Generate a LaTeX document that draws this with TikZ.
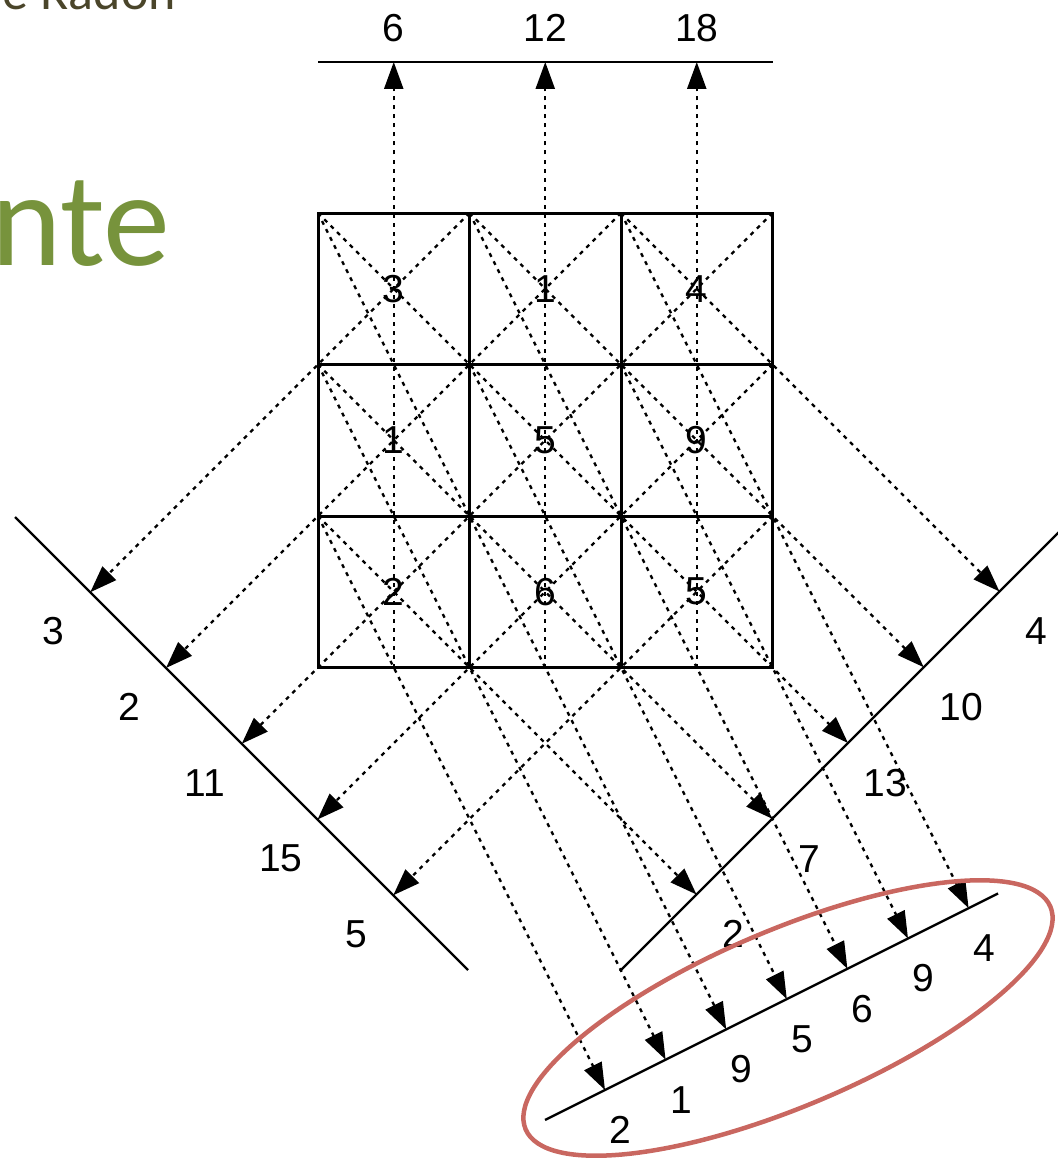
\documentclass[tikz,border=0pt]{standalone}
\usepackage{fontspec}
\setmainfont{Liberation Sans}
\newfontfamily\slidefont{Carlito}
\usetikzlibrary{arrows.meta}
\definecolor{titlegray}{RGB}{74,69,42}
\definecolor{titlegreen}{RGB}{119,147,60}
\definecolor{ringred}{RGB}{201,103,96}
\begin{document}
\begin{tikzpicture}[x=1pt,y=-1pt,
  ray/.style={line width=2.4pt, dash pattern=on 4pt off 5pt, -{Triangle[length=27pt,width=19pt]}},
  detector/.style={line width=2.3pt},
  gridline/.style={line width=3pt},
  num/.style={font=\fontsize{39}{39}\selectfont, inner sep=0pt},
  ring/.style={draw=ringred, line width=4.5pt},
]
\useasboundingbox (0,0) rectangle (1057,1161);

% background slide text (cut off)
\node[anchor=base east, inner sep=0pt, text=titlegray, font=\slidefont\fontsize{52}{52}\selectfont] (title) at (176,10) {e Radon};
\node[anchor=base west, inner sep=0pt, text=titlegreen, font=\slidefont\fontsize{134}{134}\selectfont] (subtitle) at (-9,265) {nte};

% grid corners g<col><row>
\coordinate (g00) at (318,213);   \coordinate (g10) at (469.5,213);   \coordinate (g20) at (621,213);   \coordinate (g30) at (772.5,213);
\coordinate (g01) at (318,364.5); \coordinate (g11) at (469.5,364.5); \coordinate (g21) at (621,364.5); \coordinate (g31) at (772.5,364.5);
\coordinate (g02) at (318,516);   \coordinate (g12) at (469.5,516);   \coordinate (g22) at (621,516);   \coordinate (g32) at (772.5,516);
\coordinate (g03) at (318,667.5); \coordinate (g13) at (469.5,667.5); \coordinate (g23) at (621,667.5); \coordinate (g33) at (772.5,667.5);

% grid
\draw[gridline] (g00) rectangle (g33);
\draw[gridline] (g10) -- (g13);
\draw[gridline] (g20) -- (g23);
\draw[gridline] (g01) -- (g31);
\draw[gridline] (g02) -- (g32);

% cell values
\node[num] (c00) at (393.75,288.75) {3};
\node[num] (c10) at (545.25,288.75) {1};
\node[num] (c20) at (696.75,288.75) {4};
\node[num] (c01) at (393.75,440.25) {1};
\node[num] (c11) at (545.25,440.25) {5};
\node[num] (c21) at (696.75,440.25) {9};
\node[num] (c02) at (393.75,591.75) {2};
\node[num] (c12) at (545.25,591.75) {6};
\node[num] (c22) at (696.75,591.75) {5};

% ---------- vertical projection (top detector)
\coordinate (tdA) at (318,62);
\coordinate (tdB) at (772.5,62);
\draw[detector] (tdA) -- (tdB);
\coordinate (vb1) at (393.75,667.5); \coordinate (T1) at (393.75,62);
\coordinate (vb2) at (545.25,667.5); \coordinate (T2) at (545.25,62);
\coordinate (vb3) at (696.75,667.5); \coordinate (T3) at (696.75,62);
\draw[ray] (vb1) -- (T1);
\draw[ray] (vb2) -- (T2);
\draw[ray] (vb3) -- (T3);
\node[num] (t1) at (393.75,28) {6};
\node[num] (t2) at (545.25,28) {12};
\node[num] (t3) at (696.75,28) {18};

% ---------- down-left projection (left detector)
\coordinate (ldA) at (15,517);
\coordinate (ldB) at (468,970);
\draw[detector] (ldA) -- (ldB);
\coordinate (L1) at (90.25,592.25);
\coordinate (L2) at (166,668);
\coordinate (L3) at (241.75,743.75);
\coordinate (L4) at (317.5,819.5);
\coordinate (L5) at (393.25,895.25);
\draw[ray] (g10) -- (L1);
\draw[ray] (g20) -- (L2);
\draw[ray] (g30) -- (L3);
\draw[ray] (g31) -- (L4);
\draw[ray] (g32) -- (L5);
\node[num] (l1) at (53,631) {3};
\node[num] (l2) at (129,707) {2};
\node[num] (l3) at (205,783) {11};
\node[num] (l4) at (281,858) {15};
\node[num] (l5) at (356,934) {5};

% ---------- down-right projection (right detector)
\coordinate (rdA) at (620,971);
\coordinate (rdB) at (1060,531);
\draw[detector] (rdA) -- (rdB);
\coordinate (R1) at (999.5,591.5);
\coordinate (R2) at (923.75,667.25);
\coordinate (R3) at (848,743);
\coordinate (R4) at (772.25,818.75);
\coordinate (R5) at (696.5,894.5);
\draw[ray] (g20) -- (R1);
\draw[ray] (g10) -- (R2);
\draw[ray] (g00) -- (R3);
\draw[ray] (g01) -- (R4);
\draw[ray] (g02) -- (R5);
\node[num] (r1) at (1036,631) {4};
\node[num] (r2) at (961,707) {10};
\node[num] (r3) at (885,783) {13};
\node[num] (r4) at (809,859) {7};
\node[num] (r5) at (733,934) {2};

% ---------- oblique projection (bottom detector)
\coordinate (bdA) at (545,1120);
\coordinate (bdB) at (998,893.5);
\draw[detector] (bdA) -- (bdB);
\coordinate (B1) at (605,1090);
\coordinate (B2) at (665.6,1059.7);
\coordinate (B3) at (726.2,1029.4);
\coordinate (B4) at (786.8,999.1);
\coordinate (B5) at (847.4,968.8);
\coordinate (B6) at (908,938.5);
\coordinate (B7) at (968.6,908.2);
\draw[ray] (g02) -- (B1);
\draw[ray] (g01) -- (B2);
\draw[ray] (g00) -- (B3);
\draw[ray] (g11) -- (B4);
\draw[ray] (g10) -- (B5);
\draw[ray] (g21) -- (B6);
\draw[ray] (g20) -- (B7);
\node[num] (b1) at (620,1130) {2};
\node[num] (b2) at (681,1100) {1};
\node[num] (b3) at (741,1069) {9};
\node[num] (b4) at (802,1039) {5};
\node[num] (b5) at (862,1009) {6};
\node[num] (b6) at (923,978) {9};
\node[num] (b7) at (984,948) {4};

% red ellipse round the oblique projection
\coordinate (ellc) at (788,1018);
\draw[ring, rotate around={23:(ellc)}] (ellc) ellipse [x radius=285pt, y radius=88pt];
\end{tikzpicture}
\end{document}
